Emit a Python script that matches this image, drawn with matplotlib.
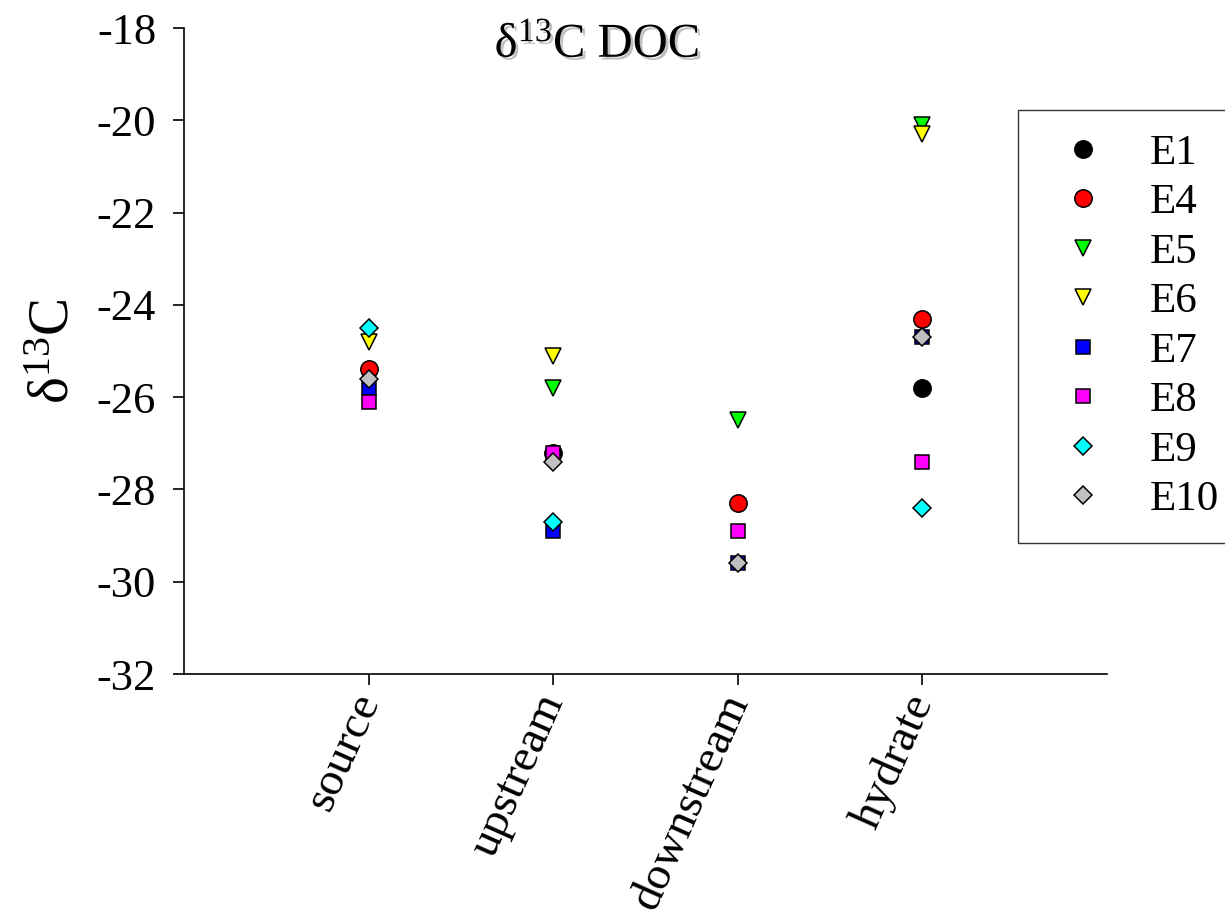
import numpy as np
import matplotlib
matplotlib.use("Agg")
import matplotlib.pyplot as plt
import matplotlib.patheffects as pe

# Sampling sites and delta-13C of dissolved organic carbon per expedition
sites = ["source", "upstream", "downstream", "hydrate"]
nan = np.nan
E1 = [nan, -27.2, nan, -25.8]
E4 = [-25.4, nan, -28.3, -24.3]
E5 = [nan, -25.8, -26.5, -20.1]
E6 = [-24.8, -25.1, nan, -20.3]
E7 = [-25.8, -28.9, -29.6, -24.7]
E8 = [-26.1, -27.2, -28.9, -27.4]
E9 = [-24.5, -28.7, nan, -28.4]
E10 = [-25.6, -27.4, -29.6, -24.7]

series = [
    ("E1", E1, "o", "#000000", 12.5),
    ("E4", E4, "o", "#ff0000", 12.5),
    ("E5", E5, "v", "#00ff00", 12),
    ("E6", E6, "v", "#ffff00", 12),
    ("E7", E7, "s", "#0000ff", 10.5),
    ("E8", E8, "s", "#ff00ff", 10.5),
    ("E9", E9, "D", "#00ffff", 9.5),
    ("E10", E10, "D", "#c0c0c0", 9.5),
]

plt.rcParams["font.family"] = "serif"
plt.rcParams["font.serif"] = ["Liberation Serif", "Times New Roman", "DejaVu Serif"]
plt.rcParams["mathtext.fontset"] = "custom"
plt.rcParams["mathtext.rm"] = "Liberation Serif"
plt.rcParams["mathtext.it"] = "Liberation Serif:italic"

fig = plt.figure(figsize=(12.25, 9.22), dpi=100)
ax = fig.add_axes([184 / 1225, 1 - 674 / 922, (1107 - 184) / 1225, (674 - 28) / 922])

x = np.arange(1, len(sites) + 1)
for name, vals, mk, col, ms in series:
    ax.plot(x, vals, linestyle="none", marker=mk, markersize=ms,
            markerfacecolor=col, markeredgecolor="black", markeredgewidth=1.1,
            label=name)

ax.set_xlim(0, 5)
ax.set_ylim(-32, -18)
ax.set_yticks(np.arange(-32, -17, 2))
ax.set_yticklabels([f"{v:d}" for v in range(-32, -17, 2)])
ax.set_xticks(x)
ax.set_xticklabels(sites, rotation=66, ha="right", va="center",
                   rotation_mode="anchor")

for side in ("top", "right"):
    ax.spines[side].set_visible(False)
for side in ("left", "bottom"):
    ax.spines[side].set_linewidth(1.2)
ax.tick_params(axis="both", direction="out", length=8, width=1.2)
ax.tick_params(axis="y", pad=12, labelsize=32)
ax.tick_params(axis="x", pad=8, labelsize=34)

ax.set_ylabel("δ$^{13}$C", fontsize=41, labelpad=12)

ax.text(597 / 1225, 1 - 45 / 922, "δ$^{13}$C DOC", transform=fig.transFigure,
        fontsize=35, ha="center", va="center",
        path_effects=[pe.withSimplePatchShadow(offset=(2, -2),
                                               shadow_rgbFace="0.6",
                                               alpha=0.6)])

leg = ax.legend(loc="upper left", bbox_to_anchor=(1018 / 1225, 1 - 110 / 922),
                bbox_transform=fig.transFigure, fontsize=31, frameon=True,
                fancybox=False, borderpad=0.55, handlelength=1.9,
                handletextpad=0.62, labelspacing=0.24, borderaxespad=0)
leg.get_frame().set_edgecolor("black")
leg.get_frame().set_linewidth(1.0)

fig.savefig("out.png", dpi=100)
